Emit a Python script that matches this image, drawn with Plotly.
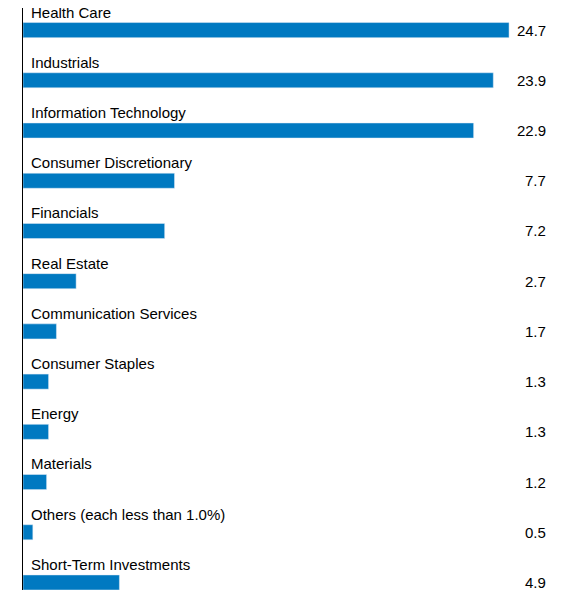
import plotly.graph_objects as go

categories = ["Health Care", "Industrials", "Information Technology", "Consumer Discretionary",
              "Financials", "Real Estate", "Communication Services", "Consumer Staples",
              "Energy", "Materials", "Others (each less than 1.0%)", "Short-Term Investments"]
values = [24.7, 23.9, 22.9, 7.7, 7.2, 2.7, 1.7, 1.3, 1.3, 1.2, 0.5, 4.9]
labels = ["24.7", "23.9", "22.9", "7.7", "7.2", "2.7", "1.7", "1.3", "1.3", "1.2", "0.5", "4.9"]

pos = list(range(len(categories)))
fig = go.Figure(go.Bar(x=values, y=pos, orientation="h", width=0.3,
                       marker_color="#0079C1", hoverinfo="skip"))

for i, (c, t) in enumerate(zip(categories, labels)):
    fig.add_annotation(x=0, y=i - 0.36, xref="x", yref="y", text=c, showarrow=False,
                       xanchor="left", xshift=6, font=dict(size=15, color="#000"))
    fig.add_annotation(x=0.9545, y=i, xref="paper", yref="y", text=t, showarrow=False,
                       xanchor="right", font=dict(size=15, color="#000"))

# page adds an 8px body margin, so the figure is shrunk by 8px
fig.update_layout(width=565, height=590, margin=dict(l=15, r=0, t=0, b=8),
                  plot_bgcolor="white", paper_bgcolor="white", showlegend=False,
                  font=dict(family="Arial, Liberation Sans, sans-serif"))
fig.update_xaxes(range=[0, 27.95], visible=False)
fig.update_yaxes(range=[11.15, -0.44], showticklabels=False, showgrid=False, zeroline=False,
                 showline=True, linecolor="#000", linewidth=1)
fig.write_html("out.html")
